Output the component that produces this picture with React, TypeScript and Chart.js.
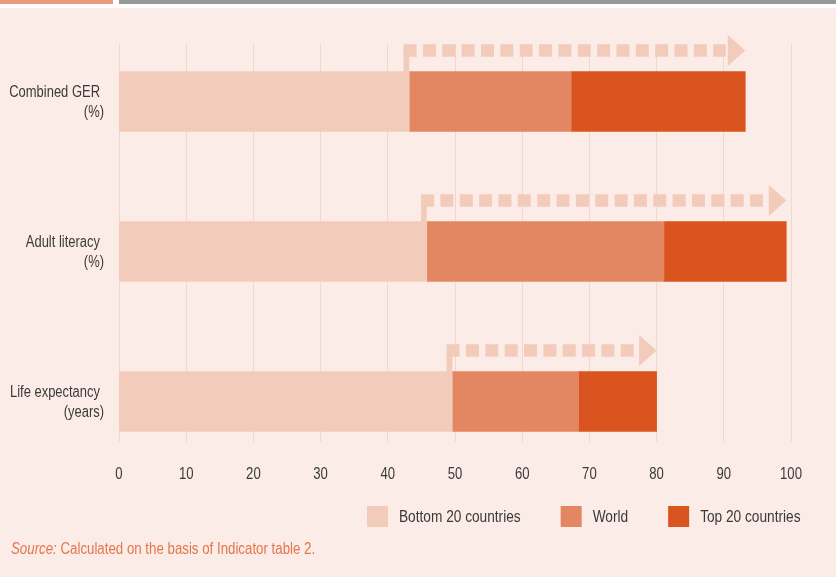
import React, { useEffect, useRef } from "react";
import { Chart, registerables } from "chart.js";

Chart.register(...registerables);

// ---- data ----
const categories: string[][] = [
  ["Combined GER", "(%)"],
  ["Adult literacy", "(%)"],
  ["Life expectancy", "(years)"],
];
const bottom20: number[] = [43.2, 45.8, 49.6];
const world: number[] = [67.3, 81.1, 68.4];
const top20: number[] = [93.2, 99.3, 80.0];
const seriesNames: string[] = ["Bottom 20 countries", "World", "Top 20 countries"];
const seriesColors: string[] = ["#F3CBBA", "#E38762", "#DA541F"];
const xTickValues: number[] = [0, 10, 20, 30, 40, 50, 60, 70, 80, 90, 100];
const sourceLabel = "Source:";
const sourceText = "Calculated on the basis of Indicator table 2.";

const FONT = '"Liberation Sans", Arial, sans-serif';
const K_TICK = 0.82;
const K_YLAB = 0.81;
const K_LEG = 0.855;
const K_SRC = 0.83;
const TEXT = "#3a3a3a";
const ORANGE_TEXT = "#E4764C";
const Y_MIN = -0.3833;
const Y_MAX = 2.27;

function condText(ctx: CanvasRenderingContext2D, text: string, x: number, y: number, align: CanvasTextAlign, k: number) {
  ctx.save();
  ctx.translate(x, y);
  ctx.scale(k, 1);
  ctx.textAlign = align;
  ctx.fillText(text, 0, 0);
  ctx.restore();
}

const arrowPlugin = {
  id: "progressArrows",
  beforeDatasetsDraw(chart: any) {
    const ctx = chart.ctx;
    const xs = chart.scales.x;
    const meta = chart.getDatasetMeta(0);
    ctx.save();
    ctx.fillStyle = seriesColors[0];
    ctx.strokeStyle = seriesColors[0];
    meta.data.forEach((bar: any, i: number) => {
      const p = bar.getProps(["y", "height"], true);
      const yTop = p.y - p.height / 2;
      const yc = yTop - 21;
      const x0 = xs.getPixelForValue(bottom20[i]);
      const x1 = xs.getPixelForValue(top20[i]);
      const stubW = 5.7;
      const lw = 12.4;
      const headL = 17.5;
      const headH = 15.5;
      ctx.fillRect(x0 - stubW, yc, stubW, yTop - yc);
      ctx.lineWidth = lw;
      ctx.lineCap = "butt";
      ctx.setLineDash([13, 6.35]);
      ctx.beginPath();
      ctx.moveTo(x0 - stubW, yc);
      ctx.lineTo(x1 - headL - 2, yc);
      ctx.stroke();
      ctx.setLineDash([]);
      ctx.beginPath();
      ctx.moveTo(x1 - headL, yc - headH);
      ctx.lineTo(x1, yc);
      ctx.lineTo(x1 - headL, yc + headH);
      ctx.closePath();
      ctx.fill();
    });
    ctx.restore();
  },
};

const textPlugin = {
  id: "condensedText",
  afterDraw(chart: any) {
    const ctx: CanvasRenderingContext2D = chart.ctx;
    const area = chart.chartArea;
    const xs = chart.scales.x;
    const ys = chart.scales.y;
    ctx.save();
    ctx.textBaseline = "alphabetic";
    ctx.fillStyle = TEXT;
    ctx.font = `16px ${FONT}`;
    // x tick labels
    xs.ticks.forEach((t: any) => {
      condText(ctx, String(t.value), xs.getPixelForValue(t.value), area.bottom + 37, "center", K_TICK);
    });
    // y tick labels (two lines, right aligned)
    ys.ticks.forEach((t: any) => {
      const lines = categories[t.value];
      const cy = ys.getPixelForValue(t.value);
      condText(ctx, lines[0], area.left - 19, cy - 4, "right", K_YLAB);
      condText(ctx, lines[1], area.left - 15, cy + 16, "right", K_YLAB);
    });
    // legend
    const legBase = area.bottom + 80.3;
    let x = area.left + 248;
    chart.data.datasets.forEach((ds: any) => {
      ctx.fillStyle = ds.backgroundColor;
      ctx.fillRect(x, legBase - 16.3, 21, 21);
      ctx.fillStyle = TEXT;
      condText(ctx, ds.label, x + 32, legBase, "left", K_LEG);
      x += 32 + ctx.measureText(ds.label).width * K_LEG + 40;
    });
    // source
    const sy = area.bottom + 112;
    const sx = 11;
    ctx.fillStyle = ORANGE_TEXT;
    ctx.font = `italic 16px ${FONT}`;
    condText(ctx, sourceLabel, sx, sy, "left", K_SRC);
    const w = ctx.measureText(sourceLabel + " ").width * K_SRC;
    ctx.font = `16px ${FONT}`;
    condText(ctx, sourceText, sx + w, sy, "left", K_SRC);
    ctx.restore();
  },
};

export default function App() {
  const ref = useRef<HTMLCanvasElement | null>(null);

  useEffect(() => {
    if (!ref.current) return;
    const segWorld = world.map((v, i) => v - bottom20[i]);
    const segTop = top20.map((v, i) => v - world[i]);
    const segs = [bottom20, segWorld, segTop];
    const chart = new Chart(ref.current, {
      type: "bar",
      data: {
        datasets: segs.map((arr, k) => ({
          label: seriesNames[k],
          data: arr.map((v, i) => ({ x: v, y: i })),
          backgroundColor: seriesColors[k],
          borderWidth: 0,
          barThickness: 60,
        })),
      },
      options: {
        indexAxis: "y",
        animation: false,
        responsive: false,
        devicePixelRatio: 1,
        layout: { padding: { top: 44, right: 45, left: 0, bottom: 0 } },
        plugins: { legend: { display: false }, tooltip: { enabled: false } },
        scales: {
          x: {
            type: "linear",
            stacked: true,
            min: 0,
            max: 100,
            afterBuildTicks: (scale: any) => {
              scale.ticks = xTickValues.map((v) => ({ value: v }));
            },
            afterFit: (scale: any) => {
              scale.height = 135;
            },
            grid: { color: "#F5D6C9", lineWidth: 1, drawTicks: false },
            border: { display: false },
            ticks: { display: false },
          },
          y: {
            type: "linear",
            stacked: true,
            reverse: true,
            offset: false,
            bounds: "data",
            min: Y_MIN,
            max: Y_MAX,
            afterDataLimits: (scale: any) => {
              scale.min = Y_MIN;
              scale.max = Y_MAX;
            },
            afterBuildTicks: (scale: any) => {
              scale.min = Y_MIN;
              scale.max = Y_MAX;
              scale.ticks = categories.map((_, i) => ({ value: i }));
            },
            afterFit: (scale: any) => {
              scale.width = 119;
            },
            grid: { display: false, drawTicks: false },
            border: { display: false },
            ticks: { display: false },
          },
        },
      },
      plugins: [arrowPlugin, textPlugin],
    } as any);
    return () => chart.destroy();
  }, []);

  return (
    <div
      style={{
        position: "fixed",
        left: 0,
        top: 0,
        width: 836,
        height: 577,
        background: "#ffffff",
        overflow: "hidden",
      }}
    >
      <div style={{ position: "absolute", left: 0, top: 0, width: 112.5, height: 3.5, background: "#EA9B7C" }} />
      <div style={{ position: "absolute", left: 118.5, top: 0, width: 718, height: 3.7, background: "#98979A" }} />
      <div style={{ position: "absolute", left: 0, top: 8, width: 836, height: 569, background: "#FBECE7" }} />
      <canvas
        ref={ref}
        width={836}
        height={577}
        style={{ position: "absolute", left: 0, top: 0, width: 836, height: 577 }}
      />
    </div>
  );
}
